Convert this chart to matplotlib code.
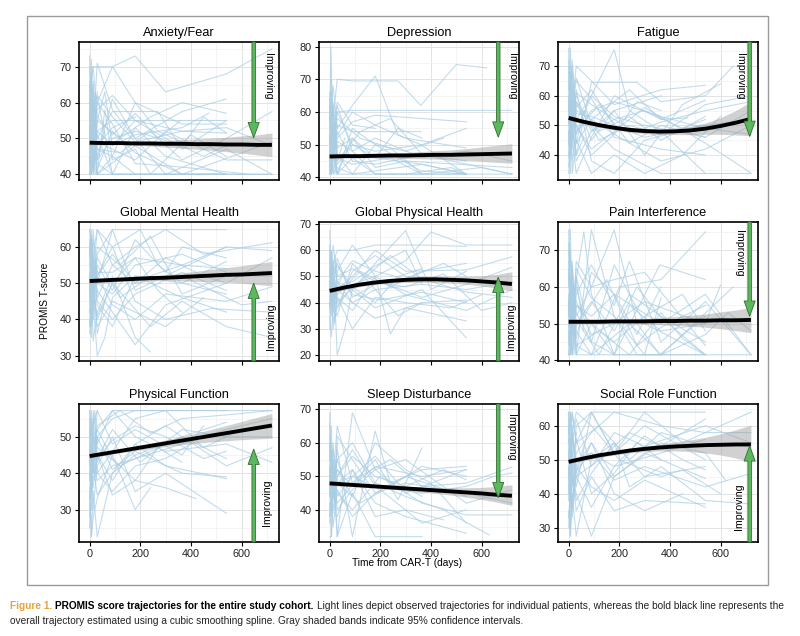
import matplotlib
matplotlib.use("Agg")
import matplotlib.pyplot as plt
from matplotlib.patches import FancyArrowPatch, Rectangle
from matplotlib.ticker import MultipleLocator

plt.rcParams['font.family'] = ['Liberation Sans', 'DejaVu Sans']
NARROW = ['Liberation Sans Narrow', 'Liberation Sans', 'DejaVu Sans']

# ---- data -------------------------------------------------------------
titles = ["Anxiety/Fear", "Depression", "Fatigue",
          "Global Mental Health", "Global Physical Health", "Pain Interference",
          "Physical Function", "Sleep Disturbance", "Social Role Function"]

# individual patient trajectories: (days from CAR-T, T-score)
anxiety = [
    [(0,55),(7,72),(14,48),(30,60),(90,70),(180,73),(300,63),(540,68),(720,75)],
    [(0,48),(10,70),(30,70),(90,70),(180,60),(365,54),(540,54)],
    [(0,62),(7,45),(14,66),(28,40),(90,40),(180,40),(540,40),(720,40)],
    [(0,40),(7,63),(14,52),(30,71),(90,58),(180,50),(365,57.5),(540,61)],
    [(0,58),(14,40),(30,55),(60,63),(90,48),(180,55),(365,52),(540,51.5)],
    [(0,52),(7,57),(14,61),(30,50),(90,57.5),(270,57.5),(365,47),(540,55)],
    [(0,45),(7,40),(14,50),(30,40),(180,48),(365,40),(540,40)],
    [(0,65),(7,50),(21,40),(90,52),(180,46),(365,40),(720,49)],
    [(0,40),(14,44),(30,62),(90,40),(180,53),(300,45),(540,40)],
    [(0,50),(7,60),(14,55),(30,47),(120,46),(240,52),(365,44),(540,50),(720,57.5)],
    [(0,42),(7,52),(21,63),(30,40),(90,45),(180,40),(540,40)],
    [(0,60),(7,66),(14,54),(30,52),(90,55),(365,55),(540,55)],
    [(0,47),(14,58),(30,44),(90,50),(180,52),(365,48),(450,56),(540,51.5)],
    [(0,53),(7,40),(14,46),(30,51),(90,40),(240,40),(540,40)],
    [(0,57),(7,48),(30,60),(90,54),(180,43),(365,42),(630,40)],
    [(0,40),(7,40),(14,56),(30,45),(90,61),(180,50),(300,40),(540,47),(720,40)],
    [(0,63),(14,70),(30,56),(90,51),(180,57),(270,50),(360,55)],
    [(0,44),(7,55),(14,40),(30,52),(90,48),(180,51),(365,53),(470,57)],
    [(0,51),(7,45),(30,40),(60,58),(90,44),(180,47),(240,40),(400,51),(540,45)],
    [(0,70),(7,60),(14,65),(30,48),(90,53),(180,56)],
    [(0,40),(7,48),(30,43),(90,40),(365,40),(720,40)],
    [(0,56),(7,52),(14,59),(30,62),(90,56),(180,49),(365,52),(540,53),(720,48)],
    [(0,49),(7,56),(14,44),(30,58),(90,62),(180,55),(300,50),(450,45),(540,48)],
    [(0,66),(7,54),(30,47),(90,45),(180,60),(270,52),(365,49)],
    [(0,43),(14,51),(30,55),(120,50),(240,56),(365,60),(540,57)],
    [(0,54),(7,47),(14,41),(30,49),(90,47),(180,44),(300,52),(540,44),(720,44)],
    [(0,73),(7,46),(14,60),(21,42),(30,55)],
    [(0,46),(7,68),(14,52),(30,63)],
    [(0,59),(7,40),(14,50),(30,44),(60,52)],
]
depression = [
    [(0,55),(5,80),(14,50),(30,62),(90,48),(180,41),(540,41)],
    [(0,48),(7,66),(14,58),(30,70),(90,69.5),(270,69.5),(360,62),(500,74.5),(620,73.5)],
    [(0,62),(7,54),(14,45),(30,60),(90,60.5),(365,60.5),(720,60.5)],
    [(0,41),(7,41),(14,50),(30,41),(90,41),(365,41),(720,41)],
    [(0,58),(14,68),(30,55),(90,62),(180,71),(270,53),(360,50),(540,41)],
    [(0,45),(7,52),(14,41),(30,56),(90,54),(360,54)],
    [(0,50),(7,62),(21,48),(30,52),(90,57),(180,59),(365,58),(540,57)],
    [(0,43),(7,47),(14,56),(30,44),(90,50),(180,48),(365,50),(540,55)],
    [(0,66),(7,58),(14,62),(30,49),(90,52),(180,46),(365,44),(540,41)],
    [(0,41),(14,52),(30,41),(90,46),(180,41),(300,41),(480,43),(540,41)],
    [(0,53),(7,44),(14,60),(30,47),(90,41),(180,50),(300,48),(450,52)],
    [(0,47),(7,41),(14,48),(30,54),(90,45),(180,44),(365,47),(720,41)],
    [(0,60),(7,70),(14,52),(30,58),(120,52),(240,49),(365,41)],
    [(0,52),(7,56),(30,41),(90,55),(180,50),(360,42),(540,41)],
    [(0,44),(7,50),(14,46),(30,51),(90,48),(180,52),(365,46),(540,48),(720,45)],
    [(0,57),(7,61),(14,54),(30,63),(90,56),(180,55)],
    [(0,41),(7,46),(14,41),(30,43),(90,41),(365,44),(540,41)],
    [(0,49),(7,41),(21,57),(30,46),(90,44),(240,46),(365,41),(600,43),(720,41)],
    [(0,51),(7,58),(14,47),(30,53),(90,60),(180,56),(300,52),(540,49)],
    [(0,46),(7,53),(30,60),(90,50),(180,46),(270,55),(365,52)],
    [(0,59),(14,49),(30,45),(120,54),(240,58),(365,47),(540,45)],
    [(0,44),(7,41),(14,47),(30,41),(90,52),(180,43),(300,45),(720,43)],
    [(0,64),(7,44),(14,55),(21,41),(30,50)],
    [(0,42),(7,60),(14,48),(30,56)],
    [(0,56),(7,41),(14,63),(30,45),(60,52)],
]
fatigue = [
    [(0,76),(7,45),(14,70),(30,52),(90,60),(180,75.5),(240,55),(365,48),(540,33.8)],
    [(0,55),(7,76),(14,58),(30,40),(90,64.5),(270,64.5),(365,58),(540,60),(650,70)],
    [(0,48),(7,33.8),(14,60),(30,66),(90,50),(180,42),(365,33.8),(540,33.8),(720,33.8)],
    [(0,62),(7,70),(21,50),(30,58),(90,45),(180,55),(300,40),(450,57),(600,64)],
    [(0,40),(7,56),(14,46),(30,33.8),(90,46),(180,60),(365,52),(540,58.5)],
    [(0,58),(14,64),(30,54),(90,53),(180,50),(300,46),(540,50),(720,52)],
    [(0,45),(7,52),(14,38),(30,48),(120,57),(240,44),(365,50),(540,46),(720,55)],
    [(0,70),(7,62),(14,55),(30,65),(90,59),(180,46),(365,42),(540,40)],
    [(0,52),(7,40),(30,62),(90,38),(180,33.8),(300,45),(480,49),(540,50)],
    [(0,36),(7,48),(14,42),(30,55),(90,52),(240,62),(365,52),(470,52.5)],
    [(0,60),(7,54),(14,68),(30,47),(90,55),(180,58),(365,53),(540,49),(720,47)],
    [(0,50),(7,58),(14,33.8),(30,45),(90,33.8),(180,40),(300,33.8),(450,40),(600,53)],
    [(0,66),(14,56),(30,70),(90,65),(180,57),(365,62),(540,63.5)],
    [(0,43),(7,47),(14,52),(30,50),(90,42),(180,48),(300,56),(540,44),(720,34)],
    [(0,56),(7,64),(30,44),(60,55),(120,48),(240,53),(365,45),(540,53)],
    [(0,33.8),(7,42),(14,50),(30,38),(90,48),(180,55),(365,60)],
    [(0,72),(7,60),(14,63),(30,56),(90,62),(180,50)],
    [(0,47),(7,51),(21,58),(30,44),(90,52),(200,46),(365,38),(540,42),(720,50)],
    [(0,64),(7,50),(14,57),(30,60),(90,48),(180,52),(270,48),(360,51),(540,55),(720,58)],
    [(0,51),(7,57),(14,45),(30,61),(90,57),(180,52),(300,55),(450,49),(540,52)],
    [(0,68),(7,55),(30,50),(90,40),(180,47),(270,58),(365,55)],
    [(0,39),(14,52),(30,58),(120,45),(240,50),(365,47),(540,57),(720,60)],
    [(0,57),(7,46),(14,54),(30,48),(90,60),(180,53),(300,50),(540,46)],
    [(0,53),(7,68),(14,46),(21,58),(30,50)],
    [(0,44),(7,60),(14,72),(30,55)],
    [(0,58),(7,42),(14,49),(30,40),(60,46)],
]
mental = [
    [(0,64.8),(7,55),(14,64.8),(30,50),(90,64.8),(365,64.8),(540,64.8)],
    [(0,50),(7,38),(14,45),(30,30),(60,35),(90,46),(180,52),(365,50),(540,56)],
    [(0,58),(7,62),(14,52),(30,64.8),(90,55),(180,60),(300,64.8),(450,58),(720,61.2)],
    [(0,45),(7,52),(14,40),(30,48),(90,42),(180,33),(300,44),(540,50),(720,57)],
    [(0,62),(7,48),(14,57),(30,53),(90,53),(180,57),(365,55),(540,54)],
    [(0,40),(7,35),(14,46),(30,41),(90,50),(240,38),(365,45),(540,38),(720,35)],
    [(0,55),(7,60),(21,50),(30,58),(90,64.8),(180,48),(300,52),(540,60),(720,59)],
    [(0,48),(7,53),(14,58),(30,45),(90,40),(180,47),(365,53),(540,48)],
    [(0,52),(7,44),(30,55),(90,48),(180,62),(300,53),(365,60),(540,57)],
    [(0,36),(7,42),(14,50),(30,38),(90,45),(180,42),(300,38),(450,46)],
    [(0,60),(7,56),(14,62),(30,52),(90,58),(180,50),(365,52),(600,44),(720,45)],
    [(0,44),(7,50),(14,34),(30,42),(90,52),(180,35),(240,31)],
    [(0,57),(7,64.8),(14,48),(30,60),(120,55),(240,63),(365,47),(540,52),(720,52)],
    [(0,50),(7,46),(14,55),(30,50),(90,47),(180,55),(365,58),(540,53)],
    [(0,42),(7,48),(30,52),(90,60),(180,45),(300,40),(480,43),(720,42)],
    [(0,64.8),(14,58),(30,64.8),(90,60),(200,64.8),(270,55),(365,50),(540,47)],
    [(0,53),(7,40),(14,52),(30,44),(90,38),(180,52),(365,46),(540,42)],
    [(0,55),(7,50),(14,58),(30,46),(90,55),(180,50),(300,57),(450,52),(540,50)],
    [(0,46),(7,56),(30,40),(90,50),(180,57),(270,48),(365,42)],
    [(0,61),(14,52),(30,57),(120,46),(240,52),(365,55),(540,60)],
    [(0,43),(7,38),(14,47),(30,52),(90,44),(180,40),(300,47),(540,45),(720,49)],
    [(0,38),(7,60),(14,46),(21,55),(30,48)],
    [(0,47),(7,63),(14,42),(30,54)],
    [(0,59),(7,44),(14,50),(30,36),(60,45)],
]
physical_health = [
    [(0,62),(7,45),(14,55),(30,20),(60,30),(90,45),(180,55),(300,67.5),(400,45),(540,52)],
    [(0,50),(7,60),(14,40),(30,52),(90,62),(180,50),(300,56),(400,67),(540,62),(720,62)],
    [(0,40),(7,35),(14,48),(30,42),(90,37),(180,50),(240,28),(300,38),(540,33)],
    [(0,55),(7,48),(21,58),(30,45),(90,50),(180,60),(300,52),(540,52.5),(720,57.5)],
    [(0,30),(7,42),(14,36),(30,48),(90,45),(180,38),(365,45),(540,26.5)],
    [(0,45),(7,52),(14,45),(30,57),(90,42),(200,48),(365,42),(540,47),(720,53.5)],
    [(0,48),(7,40),(30,35),(90,55),(180,45),(270,35),(365,40),(540,41)],
    [(0,58),(7,50),(14,62),(30,50),(90,53),(180,48),(300,46),(450,51),(600,37),(720,40)],
    [(0,35),(7,27),(14,40),(30,45),(90,40),(180,34),(365,40)],
    [(0,52),(7,56),(14,50),(30,40),(120,48),(240,58),(365,49),(540,44),(720,42)],
    [(0,42),(7,47),(14,54),(30,38),(90,52),(180,58),(300,50),(540,48)],
    [(0,60),(7,53),(30,60),(90,60),(180,62),(365,62),(540,61.5)],
    [(0,38),(7,44),(14,30),(30,42),(90,30),(180,42),(300,40),(480,38),(600,43)],
    [(0,47),(14,40),(30,48),(90,40),(180,45),(365,47),(540,45),(720,48)],
    [(0,50),(7,45),(14,52),(30,55),(90,43),(200,41),(365,44),(540,40)],
    [(0,44),(7,50),(21,38),(30,46),(90,48),(180,54),(300,60),(365,47)],
    [(0,53),(7,46),(14,56),(30,48),(90,56),(180,52),(300,49),(450,55),(540,50)],
    [(0,41),(7,49),(30,54),(90,46),(180,40),(270,50),(365,53)],
    [(0,57),(14,48),(30,43),(120,52),(240,46),(365,52),(540,55)],
    [(0,39),(7,45),(14,33),(30,38),(90,47),(180,50),(300,43),(540,37),(720,45)],
    [(0,56),(7,38),(14,47),(21,32),(30,44)],
    [(0,36),(7,54),(14,44),(30,50)],
    [(0,46),(7,60),(14,38),(30,46),(60,52)],
    [(0,67.5),(7,52),(14,42)],
]
pain = [
    [(0,75.6),(7,50),(14,67),(30,41.5),(90,75.6),(180,52),(270,41.5),(540,41.5),(720,41.5)],
    [(0,60),(7,75.6),(14,48),(30,62),(60,75),(90,58),(180,41.5),(360,66),(540,62)],
    [(0,41.5),(7,41.5),(14,55),(30,41.5),(90,41.5),(365,41.5),(540,41.5)],
    [(0,52),(7,62),(14,45),(30,67),(90,60),(180,75.5),(270,50),(360,41.5),(540,52)],
    [(0,48),(14,41.5),(30,58),(90,66),(180,55),(240,67),(365,45),(540,56),(720,41.5)],
    [(0,65),(7,55),(14,60),(30,48),(90,41.5),(200,60),(365,62),(540,75)],
    [(0,44),(7,52),(14,41.5),(30,50),(90,56),(180,48),(270,60),(360,52),(540,41.5)],
    [(0,56),(7,44),(30,63),(90,45),(180,41.5),(240,55),(365,48),(540,50),(600,60.5)],
    [(0,41.5),(7,58),(14,66),(30,52),(90,60),(180,62),(300,64),(540,44)],
    [(0,62),(7,68),(21,56),(30,44),(120,48),(240,41.5),(365,53),(450,46),(540,41.5)],
    [(0,50),(7,41.5),(14,48),(30,55),(90,52),(180,58),(365,50),(540,58),(720,41.5)],
    [(0,70),(7,60),(14,52),(30,65),(90,57),(180,52),(300,41.5),(365,57)],
    [(0,46),(7,54),(14,60),(30,41.5),(90,50),(180,41.5),(365,41.5),(540,47),(630,53),(720,48)],
    [(0,58),(7,48),(14,41.5),(30,60),(60,52),(150,62),(270,44),(365,49),(540,55)],
    [(0,41.5),(14,50),(30,44),(90,41.5),(240,50),(365,41.5),(650,60)],
    [(0,54),(7,63),(30,56),(90,47),(180,50),(300,56),(540,50)],
    [(0,53),(7,59),(14,47),(30,55),(90,50),(180,45),(300,52),(450,58),(540,48)],
    [(0,63),(7,52),(30,46),(90,64),(180,58),(270,47),(365,60)],
    [(0,45),(14,56),(30,51),(120,41.5),(240,58),(365,52),(540,45)],
    [(0,72),(7,58),(14,64),(30,53),(90,45),(180,66),(300,50),(540,41.5)],
    [(0,67),(7,45),(14,58),(21,41.5),(30,50)],
    [(0,49),(7,70),(14,55),(30,47)],
    [(0,57),(7,41.5),(14,52),(30,62),(60,48)],
]
physical_function = [
    [(0,57.2),(7,40),(14,57.2),(30,48),(90,57.2),(365,57.2),(720,57.2)],
    [(0,45),(7,22.5),(14,35),(30,22.5),(90,40),(180,45),(365,50),(540,44)],
    [(0,50),(7,57.2),(14,42),(30,50),(90,55),(180,57.2),(300,57.2),(540,57.2)],
    [(0,38),(7,45),(14,30),(30,42),(90,50),(180,35),(300,40),(540,29)],
    [(0,52),(7,48),(21,57.2),(30,45),(90,38),(180,48),(300,42),(540,38.5)],
    [(0,40),(7,35),(14,44),(30,38),(90,42),(180,44),(365,48),(540,52),(720,55)],
    [(0,55),(7,50),(14,53),(30,57.2),(90,48),(180,52),(365,45),(450,53)],
    [(0,30),(7,40),(14,36),(30,45),(90,34),(180,38),(300,36),(420,33)],
    [(0,48),(7,42),(30,52),(90,57.2),(180,50),(300,46),(540,48),(720,43)],
    [(0,36),(7,22.5),(14,28),(30,33),(90,45),(180,30),(240,36)],
    [(0,57.2),(7,52),(14,46),(30,53),(120,57.2),(240,51),(365,55),(540,56),(720,57.2)],
    [(0,44),(7,48),(14,40),(30,50),(90,41),(180,46),(365,40),(540,39)],
    [(0,42),(7,55),(30,40),(90,46),(180,55),(300,57.2),(450,47),(600,52)],
    [(0,47),(14,38),(30,44),(90,52),(200,43),(365,52),(540,50),(720,50)],
    [(0,33),(7,45),(14,52),(30,40),(90,35),(180,42),(300,44),(400,48)],
    [(0,46),(7,41),(14,50),(30,44),(90,49),(180,53),(300,50),(450,44),(540,46)],
    [(0,39),(7,46),(30,52),(90,44),(180,38),(270,47),(365,43)],
    [(0,54),(14,49),(30,47),(120,42),(240,46),(365,50),(540,54)],
    [(0,28),(7,36),(14,42),(30,34),(90,40),(180,48),(300,53),(540,42),(720,47)],
    [(0,53),(7,30),(14,46),(21,38),(30,50)],
    [(0,25),(7,48),(14,40),(30,57.2)],
    [(0,50),(7,37),(14,55),(30,43),(60,48)],
]
sleep = [
    [(0,69),(7,48),(14,60),(30,32),(90,69),(180,52),(300,45),(540,52)],
    [(0,55),(7,65),(14,45),(30,58),(90,32),(180,63.5),(240,48),(365,52),(540,53)],
    [(0,32),(7,32),(14,50),(30,32),(90,45),(180,32),(365,32)],
    [(0,48),(7,55),(21,42),(30,62),(90,55),(180,45),(300,50),(540,44)],
    [(0,58),(14,50),(30,65),(90,48),(180,55),(270,43),(365,58.5)],
    [(0,42),(7,38),(14,52),(30,45),(90,40),(200,50),(365,42),(540,38.5),(720,38.5)],
    [(0,52),(7,46),(30,55),(90,60),(180,48),(300,44),(450,40),(630,32.5)],
    [(0,45),(7,60),(14,48),(30,42),(120,50),(240,55),(365,47),(540,48),(720,52.8)],
    [(0,62),(7,50),(14,55),(30,48),(90,52),(180,42),(300,38),(540,33)],
    [(0,38),(7,44),(14,35),(30,46),(90,38),(180,45),(300,48),(540,45),(720,42)],
    [(0,50),(7,58),(14,47),(30,52),(90,47),(180,53),(365,50),(540,52)],
    [(0,47),(7,40),(30,38),(90,52),(180,38),(300,40),(450,37)],
    [(0,55),(7,48),(14,58),(30,50),(90,58),(180,47),(365,45),(540,47),(650,50),(720,51)],
    [(0,40),(14,48),(30,52),(90,44),(180,60),(300,52),(400,48),(540,36)],
    [(0,53),(7,45),(14,40),(30,48),(90,50),(200,46),(365,36),(540,40)],
    [(0,49),(7,54),(14,43),(30,50),(90,56),(180,50),(300,47),(450,52),(540,49)],
    [(0,57),(7,50),(30,44),(90,50),(180,56),(270,48),(365,44)],
    [(0,44),(14,53),(30,48),(120,42),(240,47),(365,53),(540,50)],
    [(0,60),(7,46),(14,52),(30,40),(90,46),(180,52),(300,55),(540,42),(720,46)],
    [(0,66),(7,44),(14,54),(21,40),(30,50)],
    [(0,36),(7,56),(14,46),(30,60)],
    [(0,50),(7,32),(14,44),(30,55),(60,48)],
]
social = [
    [(0,64),(7,45),(14,64),(30,55),(90,64),(365,64),(540,64)],
    [(0,48),(7,27.5),(14,40),(30,27.5),(90,50),(180,55),(300,45),(540,48)],
    [(0,55),(7,64),(21,50),(30,60),(90,64),(180,52),(300,64),(450,55),(720,64)],
    [(0,40),(7,45),(14,35),(30,48),(90,42),(180,38),(300,44),(540,36)],
    [(0,50),(7,55),(14,42),(30,52),(90,58),(180,64),(365,60),(540,58),(720,58)],
    [(0,35),(7,27.5),(14,45),(30,40),(90,27.5),(180,45),(300,52),(540,44.5)],
    [(0,60),(7,52),(14,58),(30,48),(90,55),(180,45),(365,55),(540,52),(620,44)],
    [(0,45),(7,50),(30,38),(90,46),(180,55),(240,42),(365,48),(540,38),(720,37)],
    [(0,58),(7,60),(14,64),(30,55),(120,60),(240,50),(365,58),(540,54)],
    [(0,30),(7,40),(14,33),(30,45),(90,55),(180,40),(300,35),(450,40)],
    [(0,52),(7,46),(14,55),(30,62),(90,48),(180,58),(300,54),(540,60),(720,55)],
    [(0,42),(14,50),(30,45),(90,36),(180,48),(365,52),(540,56)],
    [(0,64),(7,55),(30,64),(90,60),(200,50),(365,45),(450,47),(600,40)],
    [(0,48),(7,38),(14,50),(30,42),(90,64),(180,52),(300,60),(540,50)],
    [(0,38),(7,55),(14,46),(30,35),(90,45),(180,35),(300,38),(540,37)],
    [(0,53),(7,47),(14,56),(30,50),(90,52),(180,48),(300,57),(450,50),(540,47)],
    [(0,41),(7,50),(30,56),(90,40),(180,46),(270,55),(365,50)],
    [(0,59),(14,52),(30,45),(120,50),(240,58),(365,54),(540,62)],
    [(0,33),(7,42),(14,38),(30,47),(90,52),(180,44),(300,48),(540,42),(720,46)],
    [(0,62),(7,30),(14,52),(21,40),(30,58)],
    [(0,44),(7,64),(14,36),(30,50)],
    [(0,56),(7,40),(14,60),(30,46),(60,54)],
]
trajectories = [anxiety, depression, fatigue, mental, physical_health,
                pain, physical_function, sleep, social]

# smoothing-spline estimate and 95% CI, read at these days
knots = [0, 60, 120, 180, 240, 300, 360, 420, 480, 540, 600, 660, 720]
fit = [
    [48.8,48.7,48.7,48.6,48.6,48.5,48.5,48.4,48.4,48.3,48.3,48.2,48.2],
    [46.4,46.5,46.5,46.6,46.7,46.7,46.8,46.9,46.9,47.0,47.1,47.2,47.3],
    [52.5,51.2,50.1,49.2,48.5,48.1,47.9,48.0,48.3,48.9,49.8,50.9,52.2],
    [50.6,50.8,51.0,51.2,51.4,51.5,51.7,51.9,52.1,52.3,52.4,52.6,52.8],
    [44.5,45.8,46.9,47.7,48.3,48.7,48.9,48.9,48.7,48.5,48.1,47.7,47.1],
    [50.5,50.5,50.5,50.6,50.6,50.6,50.7,50.7,50.8,50.8,50.9,50.9,51.0],
    [44.7,45.4,46.1,46.8,47.5,48.2,48.9,49.6,50.3,51.0,51.7,52.4,53.1],
    [47.9,47.6,47.3,47.0,46.7,46.4,46.1,45.8,45.5,45.2,44.9,44.5,44.2],
    [49.4,50.4,51.3,52.0,52.7,53.2,53.6,53.9,54.1,54.3,54.4,54.5,54.5],
]
ci_lo = [
    [48.2,48.3,48.3,48.1,47.9,47.6,47.3,47.0,46.7,46.3,45.9,45.4,44.9],
    [45.8,46.0,46.0,46.0,45.9,45.8,45.7,45.6,45.4,45.2,44.9,44.6,44.3],
    [51.7,50.5,49.4,48.5,47.7,47.2,46.9,46.9,46.9,47.0,47.0,46.8,46.5],
    [50.0,50.3,50.5,50.6,50.7,50.7,50.6,50.5,50.4,50.3,50.0,49.6,49.3],
    [43.6,45.0,46.1,46.9,47.4,47.7,47.8,47.7,47.4,47.0,46.4,45.5,44.5],
    [49.9,50.0,50.1,50.1,50.0,49.9,49.7,49.5,49.3,49.0,48.6,48.1,47.5],
    [44.1,44.9,45.6,46.2,46.8,47.3,47.8,48.2,48.6,48.9,49.2,49.4,49.6],
    [47.3,47.1,46.8,46.5,46.2,45.8,45.4,44.9,44.4,43.8,43.1,42.3,41.3],
    [48.8,49.8,50.7,51.4,52.0,52.4,52.6,52.6,52.4,52.0,51.4,50.5,49.4],
]
ci_hi = [
    [49.4,49.1,49.1,49.1,49.3,49.4,49.7,49.8,50.1,50.3,50.7,51.0,51.5],
    [47.0,47.0,47.0,47.2,47.5,47.6,47.9,48.2,48.4,48.8,49.3,49.8,50.3],
    [53.3,51.9,50.8,49.9,49.3,49.0,48.9,49.1,49.7,50.8,52.6,55.0,58.0],
    [51.2,51.3,51.5,51.8,52.1,52.3,52.8,53.3,53.8,54.3,54.8,55.4,56.0],
    [45.4,46.6,47.7,48.5,49.2,49.7,50.0,50.1,50.0,50.0,50.2,50.8,51.8],
    [51.1,51.0,50.9,51.1,51.2,51.3,51.7,51.9,52.3,52.6,53.2,53.7,54.4],
    [45.3,45.9,46.6,47.4,48.2,49.1,50.0,51.0,52.0,53.1,54.2,55.3,56.4],
    [48.5,48.1,47.8,47.5,47.2,47.0,46.8,46.7,46.6,46.6,46.7,47.0,47.5],
    [50.0,51.0,51.9,52.6,53.4,54.0,54.6,55.2,55.8,56.6,57.6,58.8,60.2],
]

# "Improving" arrows: direction, tip value
arrow_dir = ["down", "down", "down", "up", "up", "down", "up", "down", "up"]
arrow_tip = [50.2, 52.3, 46.3, 50.0, 49.7, 52.0, 46.6, 43.6, 54.1]

x_ticks = [0, 200, 400, 600]

# ---- layout -----------------------------------------------------------
W, H = 800, 636
fig = plt.figure(figsize=(W / 100, H / 100), dpi=100)

fig.patches.append(Rectangle((27 / W, 1 - 585 / H), 741 / W, 569 / H,
                             transform=fig.transFigure, fill=False,
                             edgecolor='#9a9a9a', linewidth=1.0))

col_left = [79, 319, 558]
row_span = [(42, 180), (222, 361), (404, 542)]
ylims = [(38.4, 76.9), (39.2, 81.4), (31.6, 78.1),
         (28.5, 66.9), (17.7, 70.8), (39.8, 77.7),
         (21.1, 59.0), (30.4, 71.6), (25.8, 66.4)]
arrow_x = [648, 666, 715]
text_x = [703, 722, 676, 716, 717, 671, 700, 717, 673]
text_y = [67.4, 70.8, 66.5, 37.9, 30.7, 69.3, 31.8, 61.8, 36.2]

green = '#5cb85c'
for i in range(9):
    r, c = divmod(i, 3)
    top, bot = row_span[r]
    ax = fig.add_axes([col_left[c] / W, 1 - bot / H, 200 / W, (bot - top) / H])

    for traj in trajectories[i]:
        xs = [p[0] for p in traj]
        ys = [p[1] for p in traj]
        ax.plot(xs, ys, color='#a9cde3', lw=0.8, alpha=0.7, zorder=2)

    ax.fill_between(knots, ci_lo[i], ci_hi[i], color='#9a9a9a', alpha=0.45,
                    lw=0, zorder=3)
    ax.plot(knots, fit[i], color='black', lw=2.8, zorder=4,
            solid_capstyle='butt')

    ax.set_xlim(-42, 748)
    ax.set_ylim(*ylims[i])
    ax.set_xticks(x_ticks)
    ax.xaxis.set_minor_locator(MultipleLocator(100))
    ax.yaxis.set_major_locator(MultipleLocator(10))
    ax.yaxis.set_minor_locator(MultipleLocator(5))
    ax.grid(which='major', color='#e3e3e3', lw=0.7, zorder=0)
    ax.grid(which='minor', color='#f0f0f0', lw=0.5, zorder=0)
    ax.set_axisbelow(True)
    ax.tick_params(which='minor', length=0)
    ax.tick_params(which='major', length=3.2, width=0.8, colors='black',
                   labelsize=7.8, labelcolor='#222222', pad=2)
    if r < 2:
        ax.tick_params(axis='x', labelbottom=False)
    for s in ax.spines.values():
        s.set_linewidth(1.2)
    ax.set_title(titles[i], fontsize=9.2, pad=4.5)

    # improving arrow
    y0, y1 = ylims[i]
    ax_x = arrow_x[c]
    if arrow_dir[i] == "down":
        start, rot = y1, 270
    else:
        start, rot = y0, 90
    arr = FancyArrowPatch((ax_x, start), (ax_x, arrow_tip[i]),
                          arrowstyle='simple,head_length=11,head_width=8,tail_width=2.5',
                          mutation_scale=1, shrinkA=0, shrinkB=0,
                          facecolor=green, edgecolor='#2f6e2f', lw=0.6,
                          zorder=5, clip_on=False)
    ax.add_patch(arr)
    ax.text(text_x[i], text_y[i], "Improving", rotation=rot, fontsize=7.6,
            ha='center', va='center', zorder=6)

fig.text(45 / W, 1 - 301 / H, "PROMIS T-score", rotation=90, fontsize=7.3,
         family=NARROW, ha='center', va='center')
fig.text(407 / W, 1 - 563 / H, "Time from CAR-T (days)", fontsize=7.3,
         family=NARROW, ha='center', va='center')

# ---- caption ----------------------------------------------------------
cap_size = 7.3
line1 = [("Figure 1.", dict(color='#e9a23b', weight='bold')),
         ("PROMIS score trajectories for the entire study cohort.",
          dict(color='black', weight='bold')),
         ("Light lines depict observed trajectories for individual patients, "
          "whereas the bold black line represents the", dict(color='#222222'))]
line2 = ("overall trajectory estimated using a cubic smoothing spline. "
         "Gray shaded bands indicate 95% confidence intervals.")

renderer = fig.canvas.get_renderer()
x = 10 / W
y1c = 1 - 606 / H
gap = cap_size * 0.3 * 100 / 72 / W
for txt, kw in line1:
    t = fig.text(x, y1c, txt, fontsize=cap_size, va='center', ha='left', **kw)
    bb = t.get_window_extent(renderer)
    x += bb.width / W + gap
fig.text(10 / W, 1 - 621 / H, line2, fontsize=cap_size, va='center',
         ha='left', color='#222222')

fig.savefig("out.png", dpi=100)
